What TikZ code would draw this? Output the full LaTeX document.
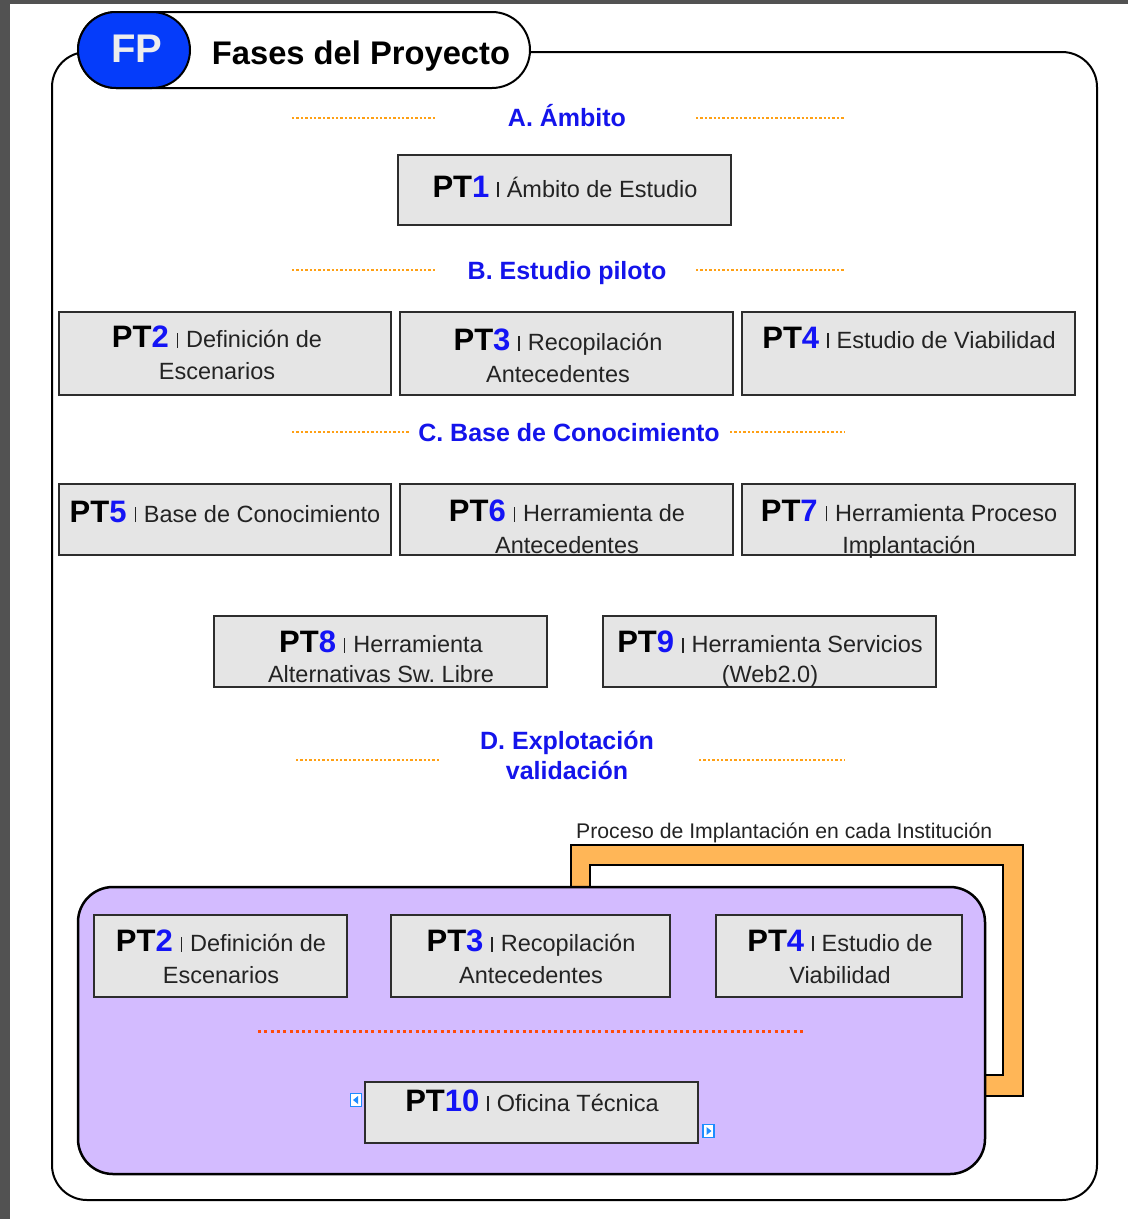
\documentclass[tikz,border=0pt]{standalone}
\usepackage{fontspec}
\setmainfont{Liberation Sans}
\frenchspacing
\definecolor{ptblue}{RGB}{20,20,245}
\definecolor{hdrblue}{RGB}{20,20,235}
\definecolor{fpblue}{RGB}{5,60,250}
\definecolor{boxfill}{RGB}{229,229,229}
\definecolor{boxdraw}{RGB}{45,45,45}
\definecolor{desctext}{RGB}{35,35,35}
\definecolor{dotorange}{RGB}{255,160,20}
\definecolor{dotred}{RGB}{255,75,10}
\definecolor{frameorange}{RGB}{255,182,87}
\definecolor{purplefill}{RGB}{211,187,255}
\definecolor{iconblue}{RGB}{30,140,255}
\definecolor{shotgray}{RGB}{82,82,82}
\newcommand{\ptl}[2]{{\fontsize{31}{32}\selectfont\bfseries\color{black}PT\textcolor{ptblue}{#1}}\hspace{8pt}{\color{desctext}\rule{1.4pt}{15pt}}\hspace{8pt}#2}
\begin{document}
\begin{tikzpicture}[x=1pt,y=-1pt,
  ptbox/.style={draw=boxdraw, fill=boxfill, line width=2pt, inner sep=0pt},
  desc/.style={font=\fontsize{23.5}{32}\selectfont, text=desctext, inner sep=0pt},
  hdr/.style={font=\fontsize{25}{30}\selectfont\bfseries, text=hdrblue, inner sep=0pt},
  dotline/.style={draw=dotorange, line width=2.6pt, dash pattern=on 2.4pt off 2pt},
  reddot/.style={draw=dotred, line width=3pt, dash pattern=on 3pt off 3.3pt},
  icon/.style={draw=iconblue, fill=white, line width=1.3pt, minimum width=11pt, minimum height=13pt, inner sep=0pt}
]
\useasboundingbox (0,0) rectangle (1128,1219);
% screenshot edges
\fill[shotgray] (0,0) rectangle (1128,4);
\fill[shotgray] (0,0) rectangle (10,1219);

% outer frame
\draw[line width=2pt, rounded corners=35pt] (52,52) rectangle (1097,1200);

% title pill
\draw[line width=2pt, fill=white, rounded corners=38pt] (78,12) rectangle (530,88);
\draw[line width=2pt, fill=fpblue, rounded corners=38pt] (78,12) rectangle (190,88);
\node[font=\fontsize{40}{40}\selectfont\bfseries, text=black!7, anchor=base, inner sep=0pt] (fp) at (137,62) {FP};
\node[font=\fontsize{32.7}{36}\selectfont\bfseries, anchor=base, inner sep=0pt] (title) at (361,64) {Fases del Proyecto};

% section A
\coordinate (a1) at (292,118); \coordinate (a2) at (437,118);
\coordinate (a3) at (696,118); \coordinate (a4) at (845,118);
\draw[dotline] (a1) -- (a2); \draw[dotline] (a3) -- (a4);
\node[hdr, anchor=base] (hA) at (567,126) {A. Ámbito};
\node[ptbox, minimum width=333pt, minimum height=70pt] (b1) at (564.5,190) {};
\node[desc, anchor=base] (t1) at (565,197) {\ptl{1}{Ámbito de Estudio}};

% section B
\coordinate (b1a) at (292,270); \coordinate (b1b) at (437,270);
\coordinate (b1c) at (696,270); \coordinate (b1d) at (845,270);
\draw[dotline] (b1a) -- (b1b); \draw[dotline] (b1c) -- (b1d);
\node[hdr, anchor=base] (hB) at (567,279) {B. Estudio piloto};
\node[ptbox, minimum width=332pt, minimum height=83pt] (b2) at (225,353.5) {};
\node[ptbox, minimum width=333pt, minimum height=83pt] (b3) at (566.5,353.5) {};
\node[ptbox, minimum width=333pt, minimum height=83pt] (b4) at (908.5,353.5) {};
\node[desc, align=center, anchor=north] (t2) at (217,325.8) {\ptl{2}{Definición de}\\Escenarios};
\node[desc, align=center, anchor=north] (t3) at (558,329) {\ptl{3}{Recopilación}\\Antecedentes};
\node[desc, anchor=base] (t4) at (909,348) {\ptl{4}{Estudio de Viabilidad}};

% section C
\coordinate (c1) at (292,432); \coordinate (c2) at (410,432);
\coordinate (c3) at (730,432); \coordinate (c4) at (845,432);
\draw[dotline] (c1) -- (c2); \draw[dotline] (c3) -- (c4);
\node[hdr, anchor=base] (hC) at (569,441) {C. Base de Conocimiento};
\node[ptbox, minimum width=332pt, minimum height=71pt] (b5) at (225,519.5) {};
\node[ptbox, minimum width=333pt, minimum height=71pt] (b6) at (566.5,519.5) {};
\node[ptbox, minimum width=333pt, minimum height=71pt] (b7) at (908.5,519.5) {};
\node[desc, anchor=base] (t5) at (225,522) {\ptl{5}{Base de Conocimiento}};
\node[desc, align=center, anchor=north] (t6) at (567,499.8) {\ptl{6}{Herramienta de}\\Antecedentes};
\node[desc, align=center, anchor=north] (t7) at (909,499.8) {\ptl{7}{Herramienta Proceso}\\Implantación};

\node[ptbox, minimum width=333pt, minimum height=71pt] (b8) at (380.5,651.5) {};
\node[ptbox, minimum width=333pt, minimum height=71pt] (b9) at (769.5,651.5) {};
\node[desc, font=\fontsize{23.5}{30}\selectfont, align=center, anchor=north] (t8) at (381,630.8) {\ptl{8}{Herramienta}\\Alternativas Sw. Libre};
\node[desc, font=\fontsize{23.5}{30}\selectfont, align=center, anchor=north] (t9) at (770,630.8) {\ptl{9}{Herramienta Servicios}\\(Web2.0)};

% section D
\coordinate (d1) at (296,760); \coordinate (d2) at (440,760);
\coordinate (d3) at (699,760); \coordinate (d4) at (845,760);
\draw[dotline] (d1) -- (d2); \draw[dotline] (d3) -- (d4);
\node[hdr, align=center, anchor=north] (hD) at (567,731) {D. Explotación\\validación};

% orange frame
\node[font=\fontsize{21.2}{24}\selectfont, text=desctext, anchor=base west, inner sep=0pt] (proc) at (576,838) {Proceso de Implantación en cada Institución};
\draw[line width=1.8pt, fill=frameorange, even odd rule] (571,845) rectangle (1023,1096) (590,865) rectangle (1003,1075);

% purple area
\draw[line width=2.5pt, fill=purplefill, rounded corners=35pt] (78,887) rectangle (985,1174);
\node[ptbox, minimum width=253pt, minimum height=82pt] (p2) at (220.5,956) {};
\node[ptbox, minimum width=279pt, minimum height=82pt] (p3) at (530.5,956) {};
\node[ptbox, minimum width=246pt, minimum height=82pt] (p4) at (839,956) {};
\node[desc, align=center, anchor=north] (tp2) at (221,929.8) {\ptl{2}{Definición de}\\Escenarios};
\node[desc, align=center, anchor=north] (tp3) at (531,929.8) {\ptl{3}{Recopilación}\\Antecedentes};
\node[desc, align=center, anchor=north] (tp4) at (840,929.8) {\ptl{4}{Estudio de}\\Viabilidad};

\coordinate (r1) at (258,1031); \coordinate (r2) at (806,1031);
\draw[reddot] (r1) -- (r2);

\node[ptbox, minimum width=333pt, minimum height=61pt] (p10) at (531.5,1112.5) {};
\node[desc, anchor=base] (tp10) at (532,1111) {\ptl{10}{Oficina Técnica}};

% small icons
\node[icon] (icL) at (356,1100) {};
\fill[iconblue] (353,1100) -- (358,1096) -- (358,1104) -- cycle;
\node[icon] (icR) at (708.5,1131) {};
\fill[iconblue] (711.5,1131) -- (706.5,1127) -- (706.5,1135) -- cycle;
\end{tikzpicture}
\end{document}
